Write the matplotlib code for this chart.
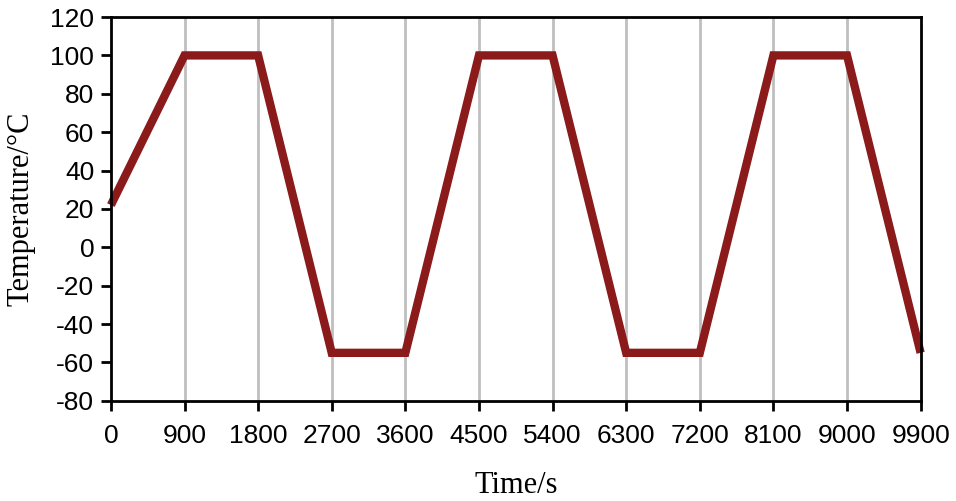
import matplotlib
matplotlib.use("Agg")
import matplotlib.pyplot as plt

time_s = [0, 900, 1800, 2700, 3600, 4500, 5400, 6300, 7200, 8100, 9000, 9900]
temperature_c = [22, 100, 100, -55, -55, 100, 100, -55, -55, 100, 100, -55]
x_ticks = [0, 900, 1800, 2700, 3600, 4500, 5400, 6300, 7200, 8100, 9000, 9900]
y_ticks = [-80, -60, -40, -20, 0, 20, 40, 60, 80, 100, 120]

fig = plt.figure(figsize=(9.56, 5.01), dpi=100)
ax = fig.add_axes([0.116, 0.2, 0.847, 0.766])

for xv in x_ticks[1:-1]:
    ax.axvline(xv, color="#BFBFBF", lw=2, zorder=1)

ax.plot(time_s, temperature_c, color="#8B1A1A", lw=6, solid_capstyle="butt",
        solid_joinstyle="miter", zorder=3, clip_on=False)

ax.set_xlim(0, 9900)
ax.set_ylim(-80, 120)
ax.set_xticks(x_ticks)
ax.set_yticks(y_ticks)
ax.set_xticklabels([str(v) for v in x_ticks], family="Liberation Sans", fontsize=19)
ax.set_yticklabels([str(v) for v in y_ticks], family="Liberation Sans", fontsize=19)
ax.tick_params(axis="both", direction="out", length=7, width=2, color="black", pad=5)
ax.tick_params(axis="x", pad=10)
for s in ax.spines.values():
    s.set_linewidth(2)
    s.set_color("black")
    s.set_zorder(4)

ax.set_xlabel("Time/s", family="Liberation Serif", fontsize=22)
ax.set_ylabel("Temperature/°C", family="Liberation Serif", fontsize=22)
ax.yaxis.set_label_coords(-0.093, 0.5)
ax.xaxis.set_label_coords(0.5, -0.182)

fig.savefig("out.png", dpi=100)
